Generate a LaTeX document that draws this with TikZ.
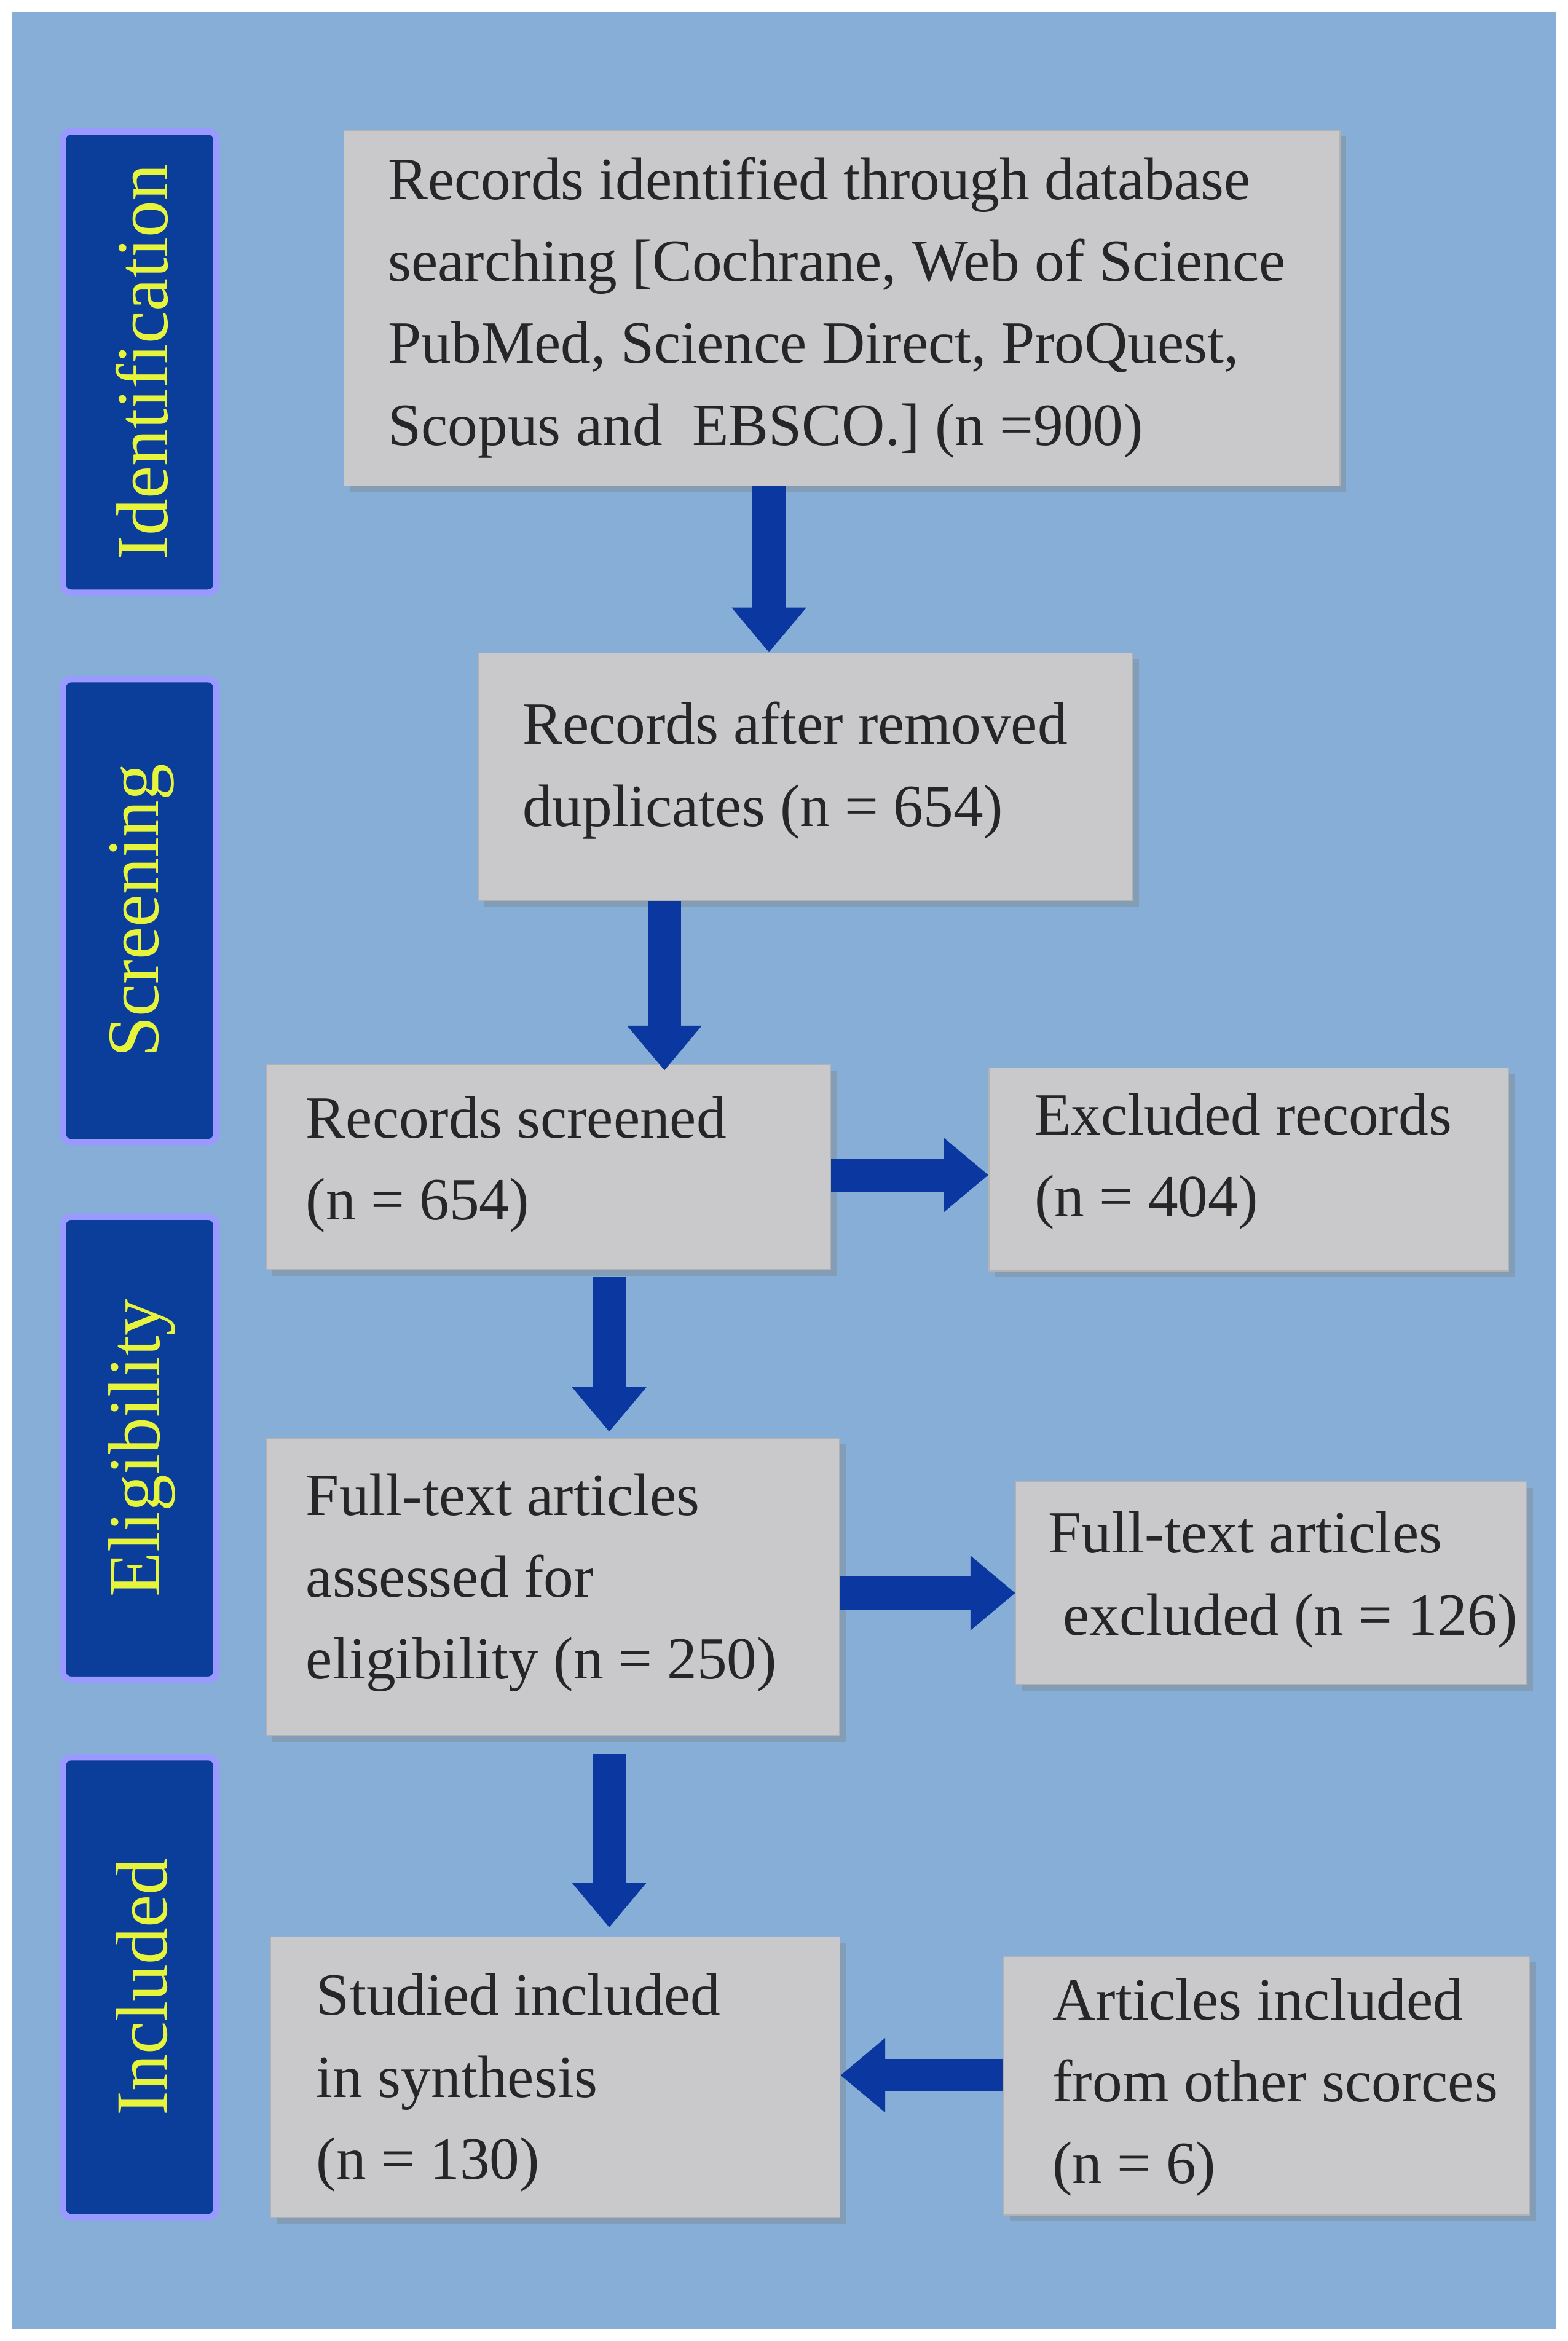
\documentclass[tikz,border=0pt]{standalone}
\usepackage{fontspec}
\setmainfont{Liberation Serif}
\usepackage{tikz}
\usetikzlibrary{arrows.meta,positioning,calc,shadows}

\definecolor{bgblue}{HTML}{86AED6}
\definecolor{boxgray}{HTML}{C9C9CB}
\definecolor{bandblue}{HTML}{0B3D9A}
\definecolor{arrblue}{HTML}{0A37A0}
\definecolor{bandtext}{HTML}{E6F53C}

\begin{document}
\begin{tikzpicture}[
    x=0.025cm, y=-0.025cm,
    box/.style={draw=gray!60, fill=boxgray, anchor=north west, align=left,
        inner sep=0pt,
        drop shadow={shadow xshift=3pt, shadow yshift=-3pt, opacity=0.35}},
    txt/.style={anchor=west, align=left, text=black!85,
        font=\fontsize{28.5}{39}\selectfont},
    band/.style={fill=bandblue, draw=blue!40!white, line width=3pt, rounded corners=4pt},
    bandlabel/.style={rotate=90, text=bandtext, font=\fontsize{35}{40}\selectfont},
    arrow/.style={-{Triangle[length=0.75cm, width=1.2cm]}, line width=0.55cm, arrblue}
]

% background
\fill[white] (0,0) rectangle (1050,1568);
\fill[bgblue] (8,8) rectangle (1042,1560);

% stage bands
\foreach \ya/\yb/\name in {88/397/Identification, 455/765/Screening,
    815/1125/Eligibility, 1177/1485/Included}{
  \draw[band] (42,\ya) rectangle (145,\yb);
  \node[bandlabel] at (95,{(\ya+\yb)/2}) {\name};
}

% boxes
\node[box, minimum width=16.675cm, minimum height=5.95cm] (ident) at (230,87) {};
\node[txt] at (255,206)
  {Records identified through database\\searching [Cochrane, Web of Science\\PubMed, Science Direct, ProQuest,\\Scopus and\ \ EBSCO.] (n =900)};

\node[box, minimum width=10.95cm, minimum height=4.15cm] (dedup) at (320,437) {};
\node[txt] at (345,516) {Records after removed\\duplicates (n = 654)};

\node[box, minimum width=9.45cm, minimum height=3.43cm] (screen) at (178,713) {};
\node[txt] at (200,780) {Records screened\\(n = 654)};

\node[box, minimum width=8.7cm, minimum height=3.4cm] (excl) at (662,715) {};
\node[txt] at (688,778) {Excluded records\\(n = 404)};

\node[box, minimum width=9.6cm, minimum height=4.98cm] (full) at (178,963) {};
\node[txt] at (200,1060) {Full-text articles\\assessed for\\eligibility (n = 250)};

\node[box, minimum width=8.55cm, minimum height=3.4cm] (fullex) at (680,992) {};
\node[txt] at (697,1058) {Full-text articles\\\ excluded (n = 126)};

\node[box, minimum width=9.53cm, minimum height=4.7cm] (incl) at (181,1297) {};
\node[txt] at (207,1395) {Studied included\\in synthesis\\(n = 130)};

\node[box, minimum width=8.8cm, minimum height=4.33cm] (other) at (672,1310) {};
\node[txt] at (700,1398) {Articles included\\from other scorces\\(n = 6)};

% arrows
\draw[arrow] (ident.south -| 515,0) -- (dedup.north -| 515,0);
\draw[arrow] (dedup.south -| 445,0) -- ([yshift=-0.1cm]screen.north -| 445,0);
\draw[arrow] (screen.east |- 0,787) -- (excl.west |- 0,787);
\draw[arrow] ([yshift=-0.1cm]screen.south -| 408,0) -- ([yshift=0.1cm]full.north -| 408,0);
\draw[arrow] (full.east |- 0,1067) -- (fullex.west |- 0,1067);
\draw[arrow] ([yshift=-0.3cm]full.south -| 408,0) -- ([yshift=0.15cm]incl.north -| 408,0);
\draw[arrow] (other.west |- 0,1390) -- (incl.east |- 0,1390);

\end{tikzpicture}
\end{document}
